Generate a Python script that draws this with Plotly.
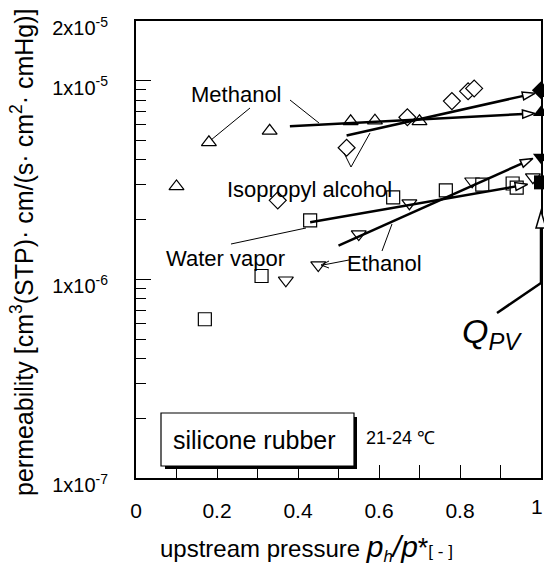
import plotly.graph_objects as go

# ---------------- data ----------------
meth_x = [0.10, 0.18, 0.33, 0.53, 0.59, 0.70]
meth_y = [2.94e-6, 4.9e-6, 5.6e-6, 6.25e-6, 6.3e-6, 6.25e-6]
ipa_x = [0.35, 0.52, 0.67, 0.78, 0.82, 0.835]
ipa_y = [2.5e-6, 4.6e-6, 6.55e-6, 7.9e-6, 8.85e-6, 9.15e-6]
eth_x = [0.37, 0.45, 0.55, 0.675, 0.83, 0.98]
eth_y = [9.9e-7, 1.18e-6, 1.69e-6, 2.42e-6, 3.12e-6, 3.27e-6]
wat_x = [0.17, 0.31, 0.43, 0.635, 0.765, 0.855, 0.93, 0.94]
wat_y = [6.3e-7, 1.04e-6, 1.98e-6, 2.59e-6, 2.81e-6, 3.0e-6, 3.04e-6, 2.9e-6]

# Q_PV values at p/p* = 1 : methanol, isopropyl alcohol, ethanol, water vapor
qpv_x = [1.0, 1.0, 1.0, 1.0]
qpv_y = [6.93e-6, 8.96e-6, 4.12e-6, 3.08e-6]
qpv_sym = ["triangle-up", "diamond", "triangle-down", "square"]

# fitted trend lines (start, arrow tip)
meth_fit_x = [0.38, 0.985]
meth_fit_y = [5.9e-6, 6.85e-6]
ipa_fit_x = [0.52, 0.985]
ipa_fit_y = [5.3e-6, 8.65e-6]
eth_fit_x = [0.50, 0.98]
eth_fit_y = [1.48e-6, 4.06e-6]
wat_fit_x = [0.43, 0.967]
wat_fit_y = [1.94e-6, 3.01e-6]

x_ticks = [0, 0.1, 0.2, 0.3, 0.4, 0.5, 0.6, 0.7, 0.8, 0.9, 1.0]
x_ticktext = ["0", "", "0.2", "", "0.4", "", "0.6", "", "0.8", "", ""]
x_last_label = "1"   # drawn separately so it stays inside the page
y_ticks = [1e-7, 1e-6, 1e-5, 2e-5]
y_ticktext = ["1x10<sup>-7</sup>", "1x10<sup>-6</sup>", "1x10<sup>-5</sup>", "2x10<sup>-5</sup>"]
y_minor = [k * 1e-7 for k in range(2, 10)] + [k * 1e-6 for k in range(2, 10)]

FONT = "Liberation Sans, Arial, sans-serif"
W, H = 544, 567
ML, MR, MT, MB = 136, 3, 21, 89
PW, PH = W - ML - MR, H - MT - MB


def P(px, py):
    """pixel -> paper coordinates"""
    return (px - ML) / PW, (H - MB - py) / PH


fig = go.Figure()

open_marker = dict(color="white", size=13, line=dict(color="black", width=1.2))

for xs, ys, sym in [(meth_x, meth_y, "triangle-up"), (ipa_x, ipa_y, "diamond"),
                    (eth_x, eth_y, "triangle-down"), (wat_x, wat_y, "square")]:
    m = dict(open_marker)
    m["symbol"] = sym
    fig.add_trace(go.Scatter(x=xs, y=ys, mode="markers", marker=m,
                             showlegend=False, hoverinfo="skip"))

for xs, ys in [(meth_fit_x, meth_fit_y), (ipa_fit_x, ipa_fit_y),
               (eth_fit_x, eth_fit_y), (wat_fit_x, wat_fit_y)]:
    fig.add_trace(go.Scatter(
        x=xs, y=ys, mode="lines+markers",
        line=dict(color="black", width=2.5),
        marker=dict(symbol="arrow", size=13, angleref="previous", color="white",
                    line=dict(color="black", width=1.5)),
        showlegend=False, hoverinfo="skip", cliponaxis=False))

fig.add_trace(go.Scatter(x=qpv_x, y=qpv_y, mode="markers",
                         marker=dict(symbol=qpv_sym, size=14, color="black"),
                         showlegend=False, hoverinfo="skip", cliponaxis=False))

shapes = []


def seg(p1, p2, w=1.0):
    x0, y0 = P(*p1)
    x1, y1 = P(*p2)
    shapes.append(dict(type="line", xref="paper", yref="paper", x0=x0, y0=y0,
                       x1=x1, y1=y1, line=dict(color="black", width=w), layer="above"))


# pointer lines
seg((250, 108), (211, 140))
seg((290, 100), (319, 123))
seg((351, 167), (344, 153))
seg((351, 167), (370, 133))
seg((231, 244), (306, 228))
seg((349, 260), (323, 265))
seg((382, 251), (392, 224))
# Q_PV pointer
seg((497, 313), (541, 283), 2.5)
seg((541, 283), (541, 226), 2.5)

# open arrowhead of Q_PV pointer
a = P(536, 228); b = P(546, 228); c = P(541, 211)
shapes.append(dict(type="path", xref="paper", yref="paper",
                   path=f"M{a[0]},{a[1]} L{b[0]},{b[1]} L{c[0]},{c[1]} Z",
                   fillcolor="white", line=dict(color="black", width=1.5), layer="above"))
# small arrowhead for ethanol pointer
a = P(329, 261); b = P(321, 265); c = P(329, 268)
shapes.append(dict(type="path", xref="paper", yref="paper",
                   path=f"M{a[0]},{a[1]} L{b[0]},{b[1]} L{c[0]},{c[1]}",
                   line=dict(color="black", width=1), layer="above"))

# label box with shadow
s0 = P(165, 417); s1 = P(357, 469)
shapes.append(dict(type="rect", xref="paper", yref="paper", x0=s0[0], y0=s0[1],
                   x1=s1[0], y1=s1[1], fillcolor="black", line=dict(width=0), layer="above"))
r0 = P(161, 413); r1 = P(354, 466)
shapes.append(dict(type="rect", xref="paper", yref="paper", x0=r0[0], y0=r0[1],
                   x1=r1[0], y1=r1[1], fillcolor="white",
                   line=dict(color="black", width=1.2), layer="above"))

annotations = []


def label(px, py, text, size, **kw):
    x, y = P(px, py)
    d = dict(xref="paper", yref="paper", x=x, y=y, text=text, showarrow=False,
             font=dict(family=FONT, size=size, color="black"),
             xanchor="center", yanchor="middle")
    d.update(kw)
    annotations.append(d)


label(236, 94, "Methanol", 22)
label(309, 189, "Isopropyl alcohol", 22)
label(225, 258, "Water vapor", 22)
label(384, 263, "Ethanol", 22)
label(254, 440, "silicone rubber", 25)
label(400, 438, "21-24 \u2103", 18)
label(492, 333, "<i>Q</i><sub><i>PV</i></sub>", 34)
label(537, 506, x_last_label, 21)

# axis titles
label(22, 252,
      "permeability [cm<sup>3</sup>(STP)\u00b7 cm/(s\u00b7 cm<sup>2</sup>\u00b7 cmHg)]",
      25, textangle=-90)
label(306, 548,
      "upstream pressure <span style='font-size:30px'><i>p</i></span><sub><i>h</i></sub>"
      "<span style='font-size:30px'><i>/p</i></span><span style='font-size:27px'>*</span>"
      "<span style='font-size:17px'>[ - ]</span>",
      24)

fig.update_layout(
    width=W, height=H,
    margin=dict(l=ML, r=MR, t=MT, b=MB, autoexpand=False),
    paper_bgcolor="white", plot_bgcolor="white",
    font=dict(family=FONT, color="black"),
    shapes=shapes, annotations=annotations, showlegend=False,
)
fig.update_xaxes(range=[0, 1], tickvals=x_ticks, ticktext=x_ticktext,
                 ticks="inside", ticklen=13, tickwidth=1.3, tickcolor="black",
                 showline=True, linewidth=2, linecolor="black", mirror=True,
                 showgrid=False, zeroline=False, ticklabeloverflow="allow",
                 tickfont=dict(size=21, family=FONT), ticklabelstandoff=13)
fig.update_yaxes(type="log", range=[-7, 4.30103 - 9], tickvals=y_ticks, ticktext=y_ticktext,
                 ticks="inside", ticklen=15, tickwidth=1.3, tickcolor="black",
                 minor=dict(tickvals=y_minor, ticks="inside", ticklen=10, tickwidth=1.2,
                            tickcolor="black", showgrid=False),
                 showline=True, linewidth=2, linecolor="black", mirror=True,
                 showgrid=False, zeroline=False, ticklabeloverflow="allow",
                 tickfont=dict(size=20, family=FONT), ticklabelstandoff=22,
                 ticklabelshift=7)

fig.write_html("out.html")
